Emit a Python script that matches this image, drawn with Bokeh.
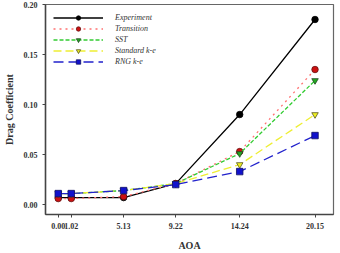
from bokeh.plotting import figure
from bokeh.models import FixedTicker, Legend, LegendItem, Range1d
from bokeh.embed import file_html
from bokeh.resources import INLINE

aoa = [0.0, 1.02, 5.13, 9.22, 14.24, 20.15]
aoa_labels = ["0.00", "1.02", "5.13", "9.22", "14.24", "20.15"]
experiment = [0.007, 0.007, 0.007, 0.021, 0.090, 0.185]
transition = [0.006, 0.006, 0.008, 0.021, 0.053, 0.135]
sst = [0.011, 0.011, 0.014, 0.021, 0.051, 0.124]
standard_ke = [0.011, 0.011, 0.014, 0.021, 0.040, 0.090]
rng_ke = [0.011, 0.011, 0.014, 0.020, 0.033, 0.069]
y_ticks = [0.0, 0.05, 0.10, 0.15, 0.20]

p = figure(width=340, height=253, output_backend="svg", toolbar_location=None,
           x_range=Range1d(-1.0, 21.6), y_range=Range1d(-0.0099, 0.2),
           min_border_left=42, min_border_right=7, min_border_top=4, min_border_bottom=37)
p.xgrid.visible = False
p.ygrid.visible = False
p.outline_line_color = "#666666"
p.outline_line_width = 1.2

serif = "Liberation Serif"
for ax in (p.xaxis[0], p.yaxis[0]):
    ax.major_label_text_font = serif
    ax.major_label_text_font_style = "bold"
    ax.major_label_text_font_size = "8px"
    ax.major_label_text_color = "#333333"
    ax.axis_label_text_font = serif
    ax.axis_label_text_font_style = "bold"
    ax.axis_label_text_font_size = "10px"
    ax.axis_label_text_color = "#333333"
    ax.axis_line_color = "#444444"
    ax.axis_line_width = 1.5
    ax.major_tick_line_color = "#444444"
    ax.major_tick_out = 3
    ax.major_tick_in = 0
    ax.minor_tick_out = 0
    ax.minor_tick_in = 0

p.xaxis.ticker = FixedTicker(ticks=aoa)
p.xaxis.major_label_overrides = {v: l for v, l in zip(aoa, aoa_labels)}
p.xaxis.axis_label = "AOA"
p.xaxis.axis_label_standoff = 8
p.yaxis.ticker = FixedTicker(ticks=y_ticks)
p.yaxis.major_label_overrides = {v: "%.2f" % v for v in y_ticks}
p.yaxis.axis_label = "Drag Coefficient"
p.yaxis.axis_label_standoff = 6

series = [
    ("Experiment", experiment, "black", "solid", "circle", "black", "black"),
    ("Transition", transition, "#ff7070", "dotted", "circle", "#cc1111", "#661111"),
    ("SST", sst, "#33cc33", "4 2", "inverted_triangle", "#22aa22", "#224422"),
    ("Standard k-e", standard_ke, "#eeee33", "8 4", "inverted_triangle", "#eeee22", "#555522"),
    ("RNG k-e", rng_ke, "#2222cc", "10 5", "square", "#1111cc", "#111166"),
]

items = []
for name, ys, lc, dash, marker, fc, oc in series:
    l = p.line(aoa, ys, line_color=lc, line_width=1.3, line_dash=dash)
    s = p.scatter(aoa, ys, marker=marker, size=6.5, fill_color=fc, line_color=oc, line_width=0.8)
    items.append(LegendItem(label=name, renderers=[l, s]))

legend = Legend(items=items, location="top_left")
legend.glyph_width = 50
legend.glyph_height = 11
legend.label_height = 10
legend.spacing = 0
legend.padding = 0
legend.margin = 8
legend.label_standoff = 12
legend.label_text_font = serif
legend.label_text_font_style = "italic"
legend.label_text_font_size = "8px"
legend.label_text_color = "#333333"
legend.border_line_color = None
legend.background_fill_alpha = 0
p.add_layout(legend)

open("out.html", "w").write(file_html(p, INLINE))
